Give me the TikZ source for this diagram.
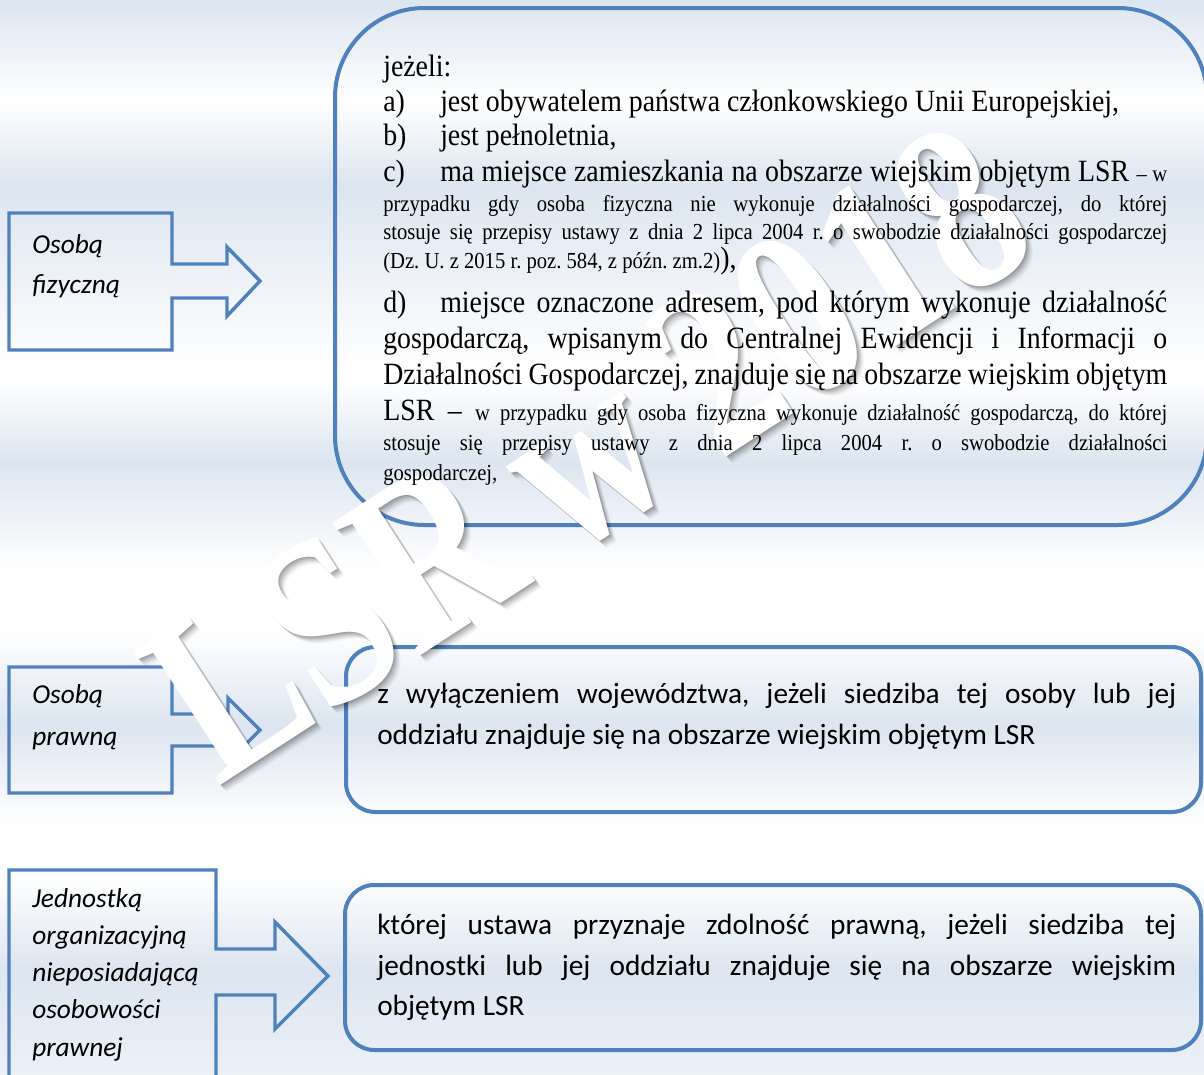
\documentclass[tikz,border=0pt]{standalone}
\usepackage{fontspec}
\setmainfont[FakeStretch=0.9]{Liberation Serif}
\newfontfamily\wmfont{Liberation Serif}
\newfontfamily\calibri{Carlito}
\definecolor{bord}{RGB}{79,129,189}
\definecolor{bgb}{RGB}{220,229,240}
\definecolor{bgw}{RGB}{255,255,255}
\definecolor{bgl}{RGB}{236,241,248}
\newcommand\fbig{\fontsize{23.2}{27}\selectfont}
\newcommand\fsmall{\fontsize{17.2}{20}\selectfont}
\newcommand\fsans{\calibri\fontsize{22}{26}\selectfont}
\newcommand\flab{\calibri\itshape\fontsize{20.5}{24}\selectfont}
\newcommand\tabb[1]{\makebox[42.75pt][l]{#1}}
\newcommand\jrow[1]{\hbox to 588pt{#1}}
\newcommand\jsans[1]{\hbox to 599.25pt{#1}}
\newcommand\wmtext{LSR\hspace{0.2em}w\hspace{0.22em}2018}
\frenchspacing
\begin{document}
\begin{tikzpicture}[x=0.75pt,y=-0.75pt,
  callout/.style={draw=bord, line width=2.6pt, line join=miter},
  panel/.style={draw=bord, line width=3pt},
  txt/.style={inner sep=0pt, anchor=base west},
  wm/.style={inner sep=0pt, rotate=33, xscale=0.8, font=\wmfont\bfseries\fontsize{182}{182}\selectfont}]
\clip (0,0) rectangle (1204,1075);
% background bands
\foreach \ya/\yb/\ca/\cb in {0/100/bgb/bgw, 100/185/bgw/bgb, 185/370/bgb/bgw, 370/381/bgw/bgw,
  380/462/bgw/bgb, 462/570/bgb/bgw, 570/631/bgw/bgw, 630/725/bgw/bgb, 725/825/bgb/bgw,
  825/876/bgw/bgw, 875/970/bgw/bgb, 970/1075/bgb/bgl}
  \shade[top color=\ca, bottom color=\cb] (-2,\ya) rectangle (1206,\yb+0.6);
% left callouts
\draw[callout] (9,213) -- (172,213) -- (172,264) -- (227,264) -- (227,247) -- (260,281)
  -- (227,316) -- (227,298) -- (172,298) -- (172,350) -- (9,350) -- cycle;
\draw[callout] (9,667) -- (172,667) -- (172,714) -- (228,714) -- (228,698) -- (260,730)
  -- (228,762) -- (228,746) -- (172,746) -- (172,793) -- (9,793) -- cycle;
\draw[callout] (9,870) -- (216,870) -- (216,949) -- (275,949) -- (275,922) -- (328,976)
  -- (275,1029) -- (275,995) -- (216,995) -- (216,1090) -- (9,1090) -- cycle;
% panels
\draw[panel, rounded corners=67pt] (335,8) rectangle (1207,525);
\draw[panel, rounded corners=22pt] (346,647) rectangle (1201,812);
\draw[panel, rounded corners=22pt] (345,885) rectangle (1201,1050);
% watermark
\foreach \d/\o in {7/0.03,6/0.04,5/0.05,4/0.06,3/0.07,2/0.08,1/0.09}
  \node[wm, text=black, text opacity=\o] (wms\d) at (588+\d,452+\d) {\wmtext};
\node[wm, text=white] (wm) at (588,452) {\wmtext};
% left labels
\node[txt, font=\flab] (l1a) at (32,253) {Osobą};
\node[txt, font=\flab] (l1b) at (32,293) {fizyczną};
\node[txt, font=\flab] (l2a) at (32,703) {Osobą};
\node[txt, font=\flab] (l2b) at (32,745) {prawną};
\node[txt, font=\flab] (l3a) at (32,907) {Jednostką};
\node[txt, font=\flab] (l3b) at (32,944) {organizacyjną};
\node[txt, font=\flab] (l3c) at (32,981) {nieposiadającą};
\node[txt, font=\flab] (l3d) at (32,1018) {osobowości};
\node[txt, font=\flab] (l3e) at (32,1056) {prawnej};
% row 1 text
\node[txt, font=\fbig] (r1) at (383,76) {jeżeli:};
\node[txt, font=\fbig] (r2) at (383,111) {\tabb{a)}jest obywatelem państwa członkowskiego Unii Europejskiej,};
\node[txt, font=\fbig] (r3) at (383,145) {\tabb{b)}jest pełnoletnia,};
\node[txt, font=\fbig] (r4) at (383,181) {\jrow{\tabb{c)}ma miejsce zamieszkania na obszarze wiejskim objętym LSR {\fsmall – w}}};
\node[txt, font=\fsmall] (r5) at (383,211) {\jrow{przypadku gdy osoba fizyczna nie wykonuje działalności gospodarczej, do której}};
\node[txt, font=\fsmall] (r6) at (383,239) {\jrow{stosuje się przepisy ustawy z dnia 2 lipca 2004 r. o swobodzie działalności gospodarczej}};
\node[txt, font=\fsmall] (r7) at (383,268) {(Dz. U. z 2015 r. poz. 584, z późn. zm.2){\fbig ),}};
\node[txt, font=\fbig] (r8) at (383,312) {\jrow{\tabb{d)}miejsce oznaczone adresem, pod którym wykonuje działalność}};
\node[txt, font=\fbig] (r9) at (383,348) {\jrow{gospodarczą, wpisanym do Centralnej Ewidencji i Informacji o}};
\node[txt, font=\fbig] (r10) at (383,384) {\jrow{Działalności Gospodarczej, znajduje się na obszarze wiejskim objętym}};
\node[txt, font=\fbig] (r11) at (383,420) {\jrow{LSR – {\fsmall w przypadku gdy osoba fizyczna wykonuje działalność gospodarczą, do której}}};
\node[txt, font=\fsmall] (r12) at (383,450) {\jrow{stosuje się przepisy ustawy z dnia 2 lipca 2004 r. o swobodzie działalności}};
\node[txt, font=\fsmall] (r13) at (383,480) {gospodarczej,};
% row 2 text
\node[txt, font=\fsans] (s1) at (377,703) {\jsans{z wyłączeniem województwa, jeżeli siedziba tej osoby lub jej}};
\node[txt, font=\fsans] (s2) at (377,744) {oddziału znajduje się na obszarze wiejskim objętym LSR};
% row 3 text
\node[txt, font=\fsans] (t1) at (377,934) {\jsans{której ustawa przyznaje zdolność prawną, jeżeli siedziba tej}};
\node[txt, font=\fsans] (t2) at (377,975) {\jsans{jednostki lub jej oddziału znajduje się na obszarze wiejskim}};
\node[txt, font=\fsans] (t3) at (377,1015) {objętym LSR};
\end{tikzpicture}
\end{document}
